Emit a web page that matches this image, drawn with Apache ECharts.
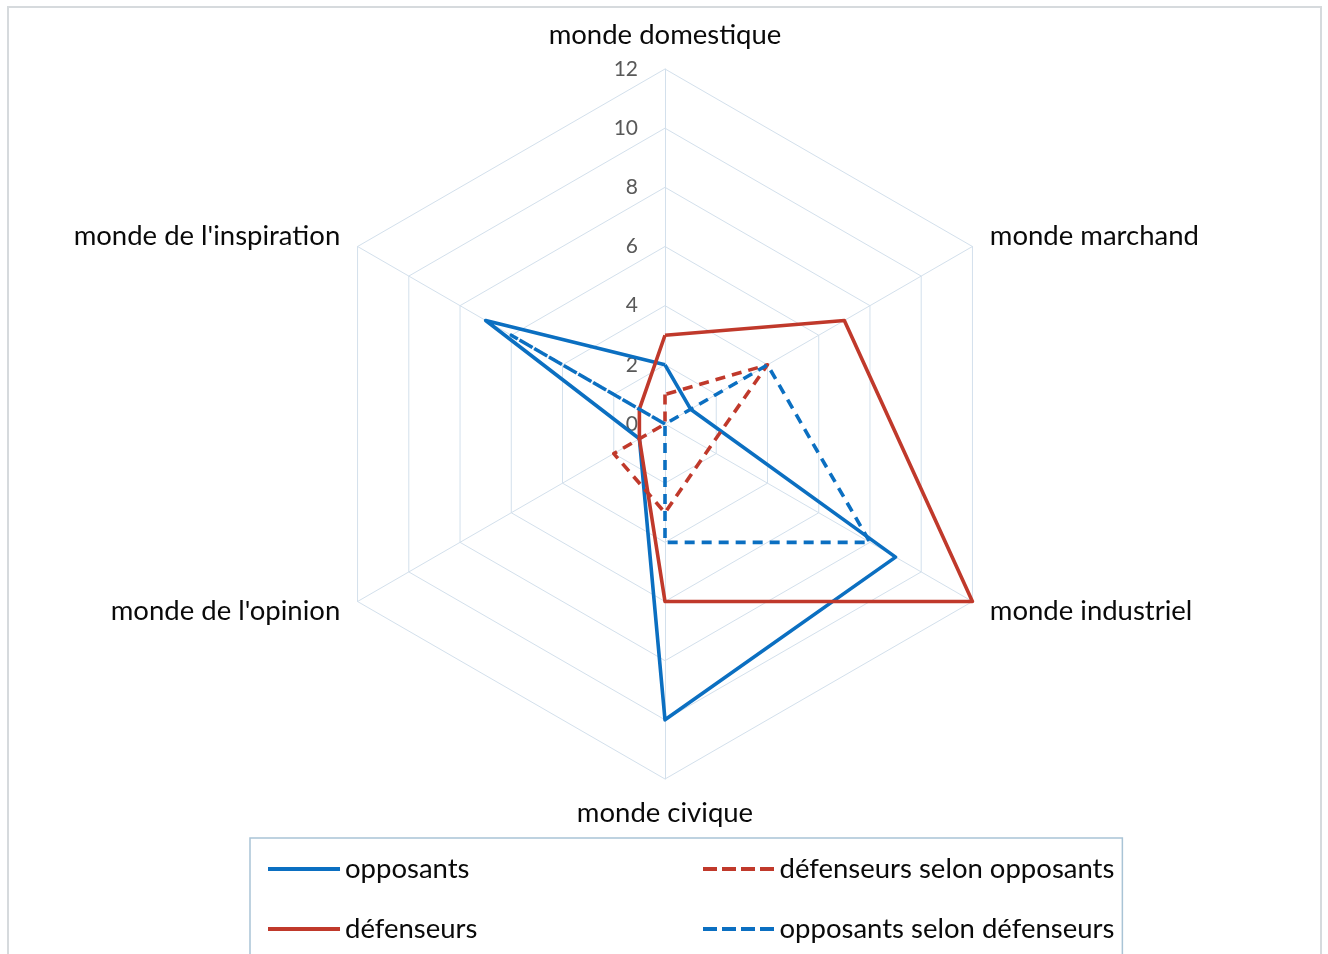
<!DOCTYPE html>
<html>
<head>
<meta charset="utf-8">
<script src="https://cdn.jsdelivr.net/npm/echarts@6/dist/echarts.min.js"></script>
<style>
  html, body { margin: 0; padding: 0; background: #ffffff; }
  #chart { width: 1328px; height: 954px; position: relative; }
  #frame { position: absolute; left: 7px; top: 6px; width: 1311px; height: 950px; border: 2px solid #d6dadd; pointer-events: none; }
</style>
</head>
<body>
<div id="chart"></div>
<div id="frame"></div>
<script>
// Axes (clockwise from top, as in the reference)
const worlds = ['monde domestique', 'monde marchand', 'monde industriel', 'monde civique', "monde de l'opinion", "monde de l'inspiration"];
// Series values, same order as worlds
const opposants = [2, 1, 9, 10, 1, 7];
const defenseurs = [3, 7, 12, 6, 1, 1];
const defenseursSelonOpposants = [1, 4, 1.7, 3, 2, 0];
const opposantsSelonDefenseurs = [0, 4, 8, 4, 0, 6];
// Scale
const axisMax = 12;
const axisSplits = 6; // ticks 0,2,...,12

const seriesNames = ['opposants', 'défenseurs selon opposants', 'défenseurs', 'opposants selon défenseurs'];
const BLUE = '#0b6fc1';
const RED = '#c0392b';
const FONT = 'Lato';

// ECharts lays indicators counter-clockwise; reorder so they appear clockwise.
const ccwOrder = [0, 5, 4, 3, 2, 1];
const reorder = arr => ccwOrder.map(i => arr[i]);

const indicators = ccwOrder.map((i, k) => {
  const ind = { name: worlds[i], max: axisMax, min: 0 };
  if (k === 0) ind.axisLabel = { show: true };
  return ind;
});

function mkSeries(name, values, color, dashed) {
  return {
    type: 'radar',
    name: name,
    symbol: 'none',
    lineStyle: { color: color, width: 3.6, type: dashed ? [10, 7] : 'solid' },
    itemStyle: { color: color },
    data: [{ name: name, value: reorder(values) }]
  };
}

const solidIcon = 'rect';
const dashIcon = 'path://M0,0h14v4h-14z M19,0h14v4h-14z M38,0h14v4h-14z M57,0h14v4h-14z';

const chart = echarts.init(document.getElementById('chart'), null, { renderer: 'canvas' });
chart.setOption({
  backgroundColor: '#ffffff',
  animation: false,
  radar: {
    center: [665, 424],
    radius: 355,
    shape: 'polygon',
    splitNumber: axisSplits,
    nameGap: 20,
    axisName: { color: '#0a0a0a', fontFamily: FONT, fontSize: 27.5 },
    indicator: indicators,
    axisLine: { show: true, lineStyle: { color: '#d3e0ec', width: 1 } },
    axisTick: { show: false },
    axisLabel: { show: false, color: '#595959', fontFamily: FONT, fontSize: 21, margin: 27 },
    splitLine: { show: true, lineStyle: { color: '#d3e0ec', width: 1 } },
    splitArea: { show: false }
  },
  legend: {
    left: 250,
    top: 838,
    width: 850,
    orient: 'horizontal',
    padding: [13, 8, 13, 18],
    itemGap: 24,
    itemWidth: 72,
    itemHeight: 4,
    borderColor: '#a9c4d6',
    borderWidth: 1.5,
    borderRadius: 0,
    selectedMode: false,
    itemStyle: { borderWidth: 0 },
    textStyle: { color: '#0a0a0a', fontFamily: FONT, fontSize: 27.5, width: 334, lineHeight: 36 },
    data: [
      { name: seriesNames[0], icon: solidIcon },
      { name: seriesNames[1], icon: dashIcon },
      { name: seriesNames[2], icon: solidIcon },
      { name: seriesNames[3], icon: dashIcon }
    ]
  },
  series: [
    mkSeries(seriesNames[0], opposants, BLUE, false),
    mkSeries(seriesNames[1], defenseursSelonOpposants, RED, true),
    mkSeries(seriesNames[2], defenseurs, RED, false),
    mkSeries(seriesNames[3], opposantsSelonDefenseurs, BLUE, true)
  ]
});
</script>
</body>
</html>
